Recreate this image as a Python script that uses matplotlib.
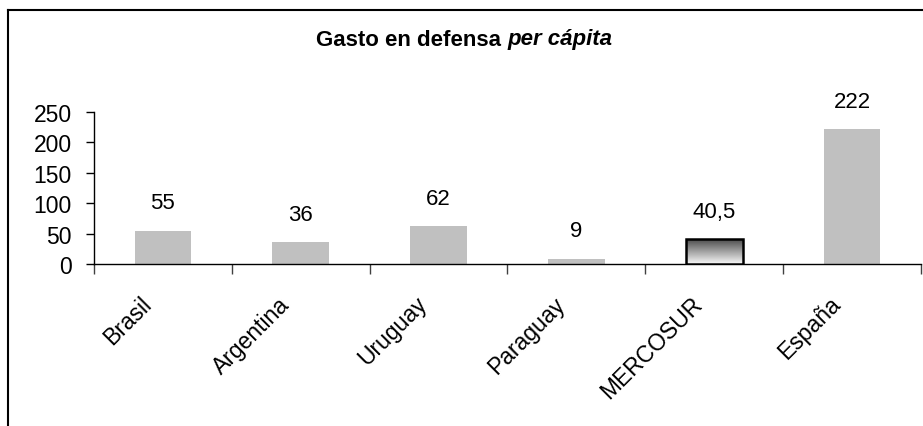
import matplotlib
matplotlib.use("Agg")
import matplotlib.pyplot as plt
import numpy as np
from matplotlib.lines import Line2D
from matplotlib.transforms import ScaledTranslation

categories = ["Brasil", "Argentina", "Uruguay", "Paraguay", "MERCOSUR", "España"]
values = [55, 36, 62, 9, 40.5, 222]
value_labels = ["55", "36", "62", "9", "40,5", "222"]
yticks = [0, 50, 100, 150, 200, 250]

plt.rcParams['font.family'] = ['Liberation Sans', 'DejaVu Sans']

W, H = 923, 427
fig = plt.figure(figsize=(W / 100, H / 100), dpi=100)
fig.patch.set_facecolor('white')

# outer frame (top and left edges visible)
fig.add_artist(Line2D([8 / W, 1.0], [1 - 11 / H, 1 - 11 / H], transform=fig.transFigure,
                      color='black', lw=1.5))
fig.add_artist(Line2D([8 / W, 8 / W], [0, 1 - 11 / H], transform=fig.transFigure,
                      color='black', lw=1.5))

ax_l, ax_r, ax_top, ax_bot = 94, 921, 113, 265
ax = fig.add_axes([ax_l / W, 1 - ax_bot / H, (ax_r - ax_l) / W, (ax_bot - ax_top) / H])
ax.set_xlim(-0.5, len(categories) - 0.5)
ax.set_ylim(0, 250)

x = np.arange(len(categories))
bw = 0.41
colors = ['#c0c0c0'] * len(categories)
bars = ax.bar(x, values, width=bw, color=colors, zorder=2)

# gradient bar for MERCOSUR
mi = categories.index("MERCOSUR")
b = bars[mi]
b.set_facecolor('none')
b.set_edgecolor('black')
b.set_linewidth(1.8)
b.set_zorder(4)
grad = np.linspace(0.30, 0.97, 100).reshape(-1, 1)
x0 = b.get_x()
im = ax.imshow(grad, cmap='gray', vmin=0, vmax=1, aspect='auto',
               extent=[x0, x0 + b.get_width(), 0, values[mi]], origin='upper', zorder=3)
im.set_clip_path(b)

for xi, v, lab in zip(x, values, value_labels):
    ax.annotate(lab, (xi, v), xytext=(0, 28), textcoords='offset pixels',
                ha='center', va='center', fontsize=16, color='black')

for s in ['top', 'right']:
    ax.spines[s].set_visible(False)
for s in ['left', 'bottom']:
    ax.spines[s].set_linewidth(1.0)
    ax.spines[s].set_color('black')

ax.set_yticks(yticks)
ax.set_yticklabels([str(t) for t in yticks], fontsize=16.5)
ax.tick_params(axis='y', direction='out', length=6, width=1, pad=10)

ax.set_xticks(x)
ax.set_xticklabels(categories, rotation=45, ha='right', va='center',
                   rotation_mode='anchor', fontsize=16.5)
ax.tick_params(axis='x', which='major', length=0, pad=26)
shift = ScaledTranslation(-0.15, 0, fig.dpi_scale_trans)
for lbl in ax.get_xticklabels():
    lbl.set_transform(lbl.get_transform() + shift)
ax.set_xticks(np.arange(-0.5, len(categories)), minor=True)
ax.tick_params(axis='x', which='minor', direction='out', length=7, width=1, color='#404040')

# title: bold part + bold italic part
t1 = fig.text(0, 1 - 40 / H, "Gasto en defensa ", ha='left', va='center',
              fontsize=16, fontweight='bold')
t2 = fig.text(0, 1 - 40 / H, "per cápita", ha='left', va='center',
              fontsize=16, fontweight='bold', fontstyle='italic')
fig.canvas.draw()
r = fig.canvas.get_renderer()
w1 = t1.get_window_extent(r).width
w2 = t2.get_window_extent(r).width
start = 464 - (w1 + w2) / 2
t1.set_x(start / W)
t2.set_x((start + w1) / W)

fig.savefig("out.png", dpi=100)
